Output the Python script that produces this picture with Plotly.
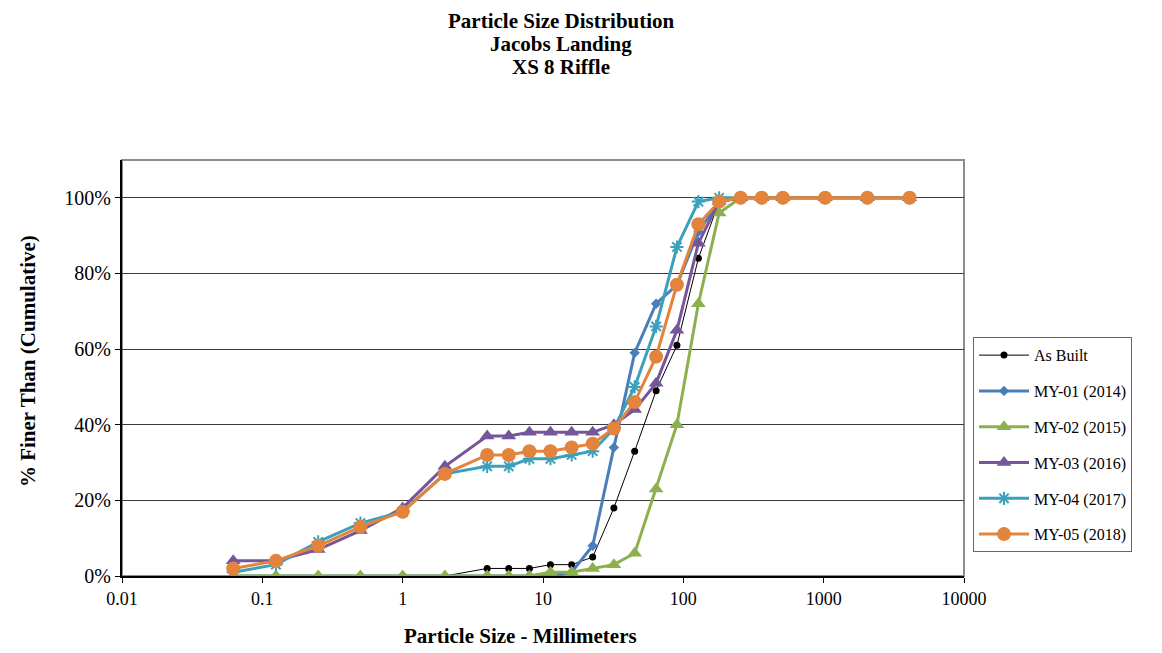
import plotly.graph_objects as go

# tamanhos de peneira (mm)
sizes = [0.062, 0.125, 0.25, 0.5, 1, 2, 4, 5.7, 8, 11.3, 16, 22.6, 32, 45, 64, 90,
         128, 180, 256, 362, 512, 1024, 2048, 4096]

as_built = [0, 0, 0, 0, 0, 0, 2, 2, 2, 3, 3, 5, 18, 33, 49, 61, 84, 99, 100, 100, 100, 100, 100, 100]
my01 = [0, 0, 0, 0, 0, 0, 0, 0, 0, 0, 1, 8, 34, 59, 72, 77, 91, 99, 100, 100, 100, 100, 100, 100]
my02 = [0, 0, 0, 0, 0, 0, 0, 0, 0, 1, 1, 2, 3, 6, 23, 40, 72, 96, 100, 100, 100, 100, 100, 100]
my03 = [4, 4, 7, 12, 18, 29, 37, 37, 38, 38, 38, 38, 40, 44, 51, 65, 88, 99, 100, 100, 100, 100, 100, 100]
my04 = [1, 3, 9, 14, 17, 27, 29, 29, 31, 31, 32, 33, 39, 50, 66, 87, 99, 100, 100, 100, 100, 100, 100, 100]
my05 = [2, 4, 8, 13, 17, 27, 32, 32, 33, 33, 34, 35, 39, 46, 58, 77, 93, 99, 100, 100, 100, 100, 100, 100]

x_ticks = [0.01, 0.1, 1, 10, 100, 1000, 10000]
x_ticktext = ["0.01", "0.1", "1", "10", "100", "1000", "10000"]
y_ticks = [0, 20, 40, 60, 80, 100]
y_ticktext = ["0%", "20%", "40%", "60%", "80%", "100%"]

series = [
    ("As Built", as_built, "black", 1, "circle", 7),
    ("MY-01 (2014)", my01, "#4A7EBB", 3, "diamond", 8),
    ("MY-02 (2015)", my02, "#8DB04F", 3, "triangle-up", 13),
    ("MY-03 (2016)", my03, "#76569A", 3, "triangle-up", 13),
    ("MY-04 (2017)", my04, "#3BA0BB", 3, "asterisk-open", 11),
    ("MY-05 (2018)", my05, "#E2843C", 3, "circle", 14),
]

fig = go.Figure()
for i, (nome, vals, cor, lw, simb, ms) in enumerate(series):
    fig.add_trace(go.Scatter(
        x=sizes, y=vals, name=nome, mode="lines+markers",
        legendgroup=str(i),
        line=dict(color=cor, width=lw),
        marker=dict(symbol=simb, size=ms, color=cor,
                    line=dict(color=cor, width=2 if simb == "asterisk-open" else 0)),
    ))

fonte = "Liberation Serif, Times New Roman, serif"

# moldura cinza (topo e direita)
fig.add_shape(type="rect", xref="paper", yref="paper", x0=0, y0=0, x1=1, y1=1,
              line=dict(color="#8c8c8c", width=2), layer="below")

# titulos (posicoes em fracao da area do grafico)
titulos = ["Particle Size Distribution", "Jacobs Landing", "XS 8 Riffle"]
for t, yy in zip(titulos, [1.3330, 1.2789, 1.2236]):
    fig.add_annotation(text=f"<b>{t}</b>", xref="paper", yref="paper", x=0.5214, y=yy,
                       xanchor="center", yanchor="middle", showarrow=False,
                       font=dict(family=fonte, size=21, color="black"))
fig.add_annotation(text="<b>Particle Size - Millimeters</b>", xref="paper", yref="paper",
                   x=0.4727, y=-0.1442, xanchor="center", yanchor="middle", showarrow=False,
                   font=dict(family=fonte, size=21, color="black"))
fig.add_annotation(text="<b>% Finer Than (Cumulative)</b>", xref="paper", yref="paper",
                   x=-0.1116, y=0.5168, xanchor="center", yanchor="middle", showarrow=False,
                   textangle=-90, font=dict(family=fonte, size=21, color="black"))

fig.update_layout(
    width=1146, height=645,
    margin=dict(l=114, r=190, t=152, b=77),
    paper_bgcolor="white", plot_bgcolor="white",
    font=dict(family=fonte, size=18, color="black"),
    xaxis=dict(
        type="log", range=[-2, 4],
        tickvals=x_ticks, ticktext=x_ticktext,
        ticks="outside", ticklen=5, tickcolor="black",
        showgrid=False, zeroline=False,
        showline=True, linecolor="black", linewidth=2,
        tickfont=dict(size=18),
    ),
    yaxis=dict(
        range=[0, 110],
        tickvals=y_ticks, ticktext=y_ticktext,
        ticks="outside", ticklen=5, tickcolor="black",
        showgrid=True, gridcolor="#3a3a3a", gridwidth=1,
        zeroline=False,
        showline=True, linecolor="black", linewidth=2,
        tickfont=dict(size=20),
    ),
    legend=dict(
        x=1.0107, xanchor="left", y=0.574, yanchor="top",
        bordercolor="#666666", borderwidth=1,
        font=dict(family=fonte, size=16),
        tracegroupgap=12, itemwidth=50,
    ),
)

fig.write_html("out.html")
